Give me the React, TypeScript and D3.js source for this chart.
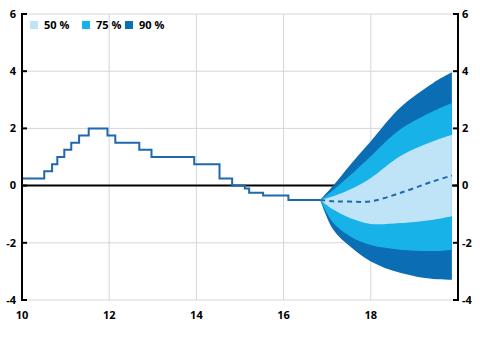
import React from "react";
import * as d3 from "d3";

const stepTimes = [10, 10.51, 10.69, 10.81, 10.97, 11.13, 11.31, 11.53, 11.96, 12.14, 12.69, 12.97, 13.95, 14.53, 14.82, 15.11, 15.21, 15.53, 16.11, 16.84];
const stepValues = [0.25, 0.5, 0.75, 1.0, 1.25, 1.5, 1.75, 2.0, 1.75, 1.5, 1.25, 1.0, 0.75, 0.25, 0, -0.1, -0.25, -0.35, -0.5, -0.5];

const fanTimes = [16.84, 17.14, 17.52, 18.0, 18.67, 19.43, 19.86];
const upper90 = [-0.5, 0.0, 0.71, 1.55, 2.72, 3.59, 3.96];
const upper75 = [-0.5, -0.15, 0.35, 1.03, 1.96, 2.6, 2.89];
const upper50 = [-0.5, -0.37, -0.14, 0.27, 1.03, 1.55, 1.78];
const median = [-0.5, -0.55, -0.56, -0.55, -0.26, 0.15, 0.35];
const lower50 = [-0.5, -0.84, -1.13, -1.34, -1.31, -1.19, -1.07];
const lower75 = [-0.5, -1.3, -1.77, -2.08, -2.24, -2.29, -2.24];
const lower90 = [-0.5, -1.54, -2.12, -2.65, -3.05, -3.27, -3.29];

const xTicks = [10, 12, 14, 16, 18];
const yTicks = [-4, -2, 0, 2, 4, 6];
const legendLabels = ["50 %", "75 %", "90 %"];

const C50 = "#bfe4f8";
const C75 = "#16b2e8";
const C90 = "#0b6db3";
const LINE = "#1f68ad";

export default function App() {
  const W = 480, H = 346;
  const x = d3.scaleLinear().domain([10, 20]).range([22, 458]);
  const y = d3.scaleLinear().domain([-4, 6]).range([300, 14]);
  const font = "'Open Sans', 'DejaVu Sans', sans-serif";
  const curve = d3.curveCatmullRom.alpha(0.5);

  const band = (lo: number[], hi: number[]) =>
    d3.area<number>()
      .x((_, i) => x(fanTimes[i]))
      .y0((_, i) => y(lo[i]))
      .y1((_, i) => y(hi[i]))
      .curve(curve)(fanTimes.map((_, i) => i)) || "";

  const stepLine = d3.line<number>()
    .x((_, i) => x(stepTimes[i]))
    .y((d) => y(d))
    .curve(d3.curveStepAfter)(stepValues) || "";

  const medLine = d3.line<number>()
    .x((_, i) => x(fanTimes[i]))
    .y((d) => y(d))
    .curve(curve)(median) || "";

  const colors = [C50, C75, C90];
  const legendX = [30, 82, 125];

  return (
    <svg width={W} height={H} style={{ position: "absolute", left: 0, top: 0, background: "#fff" }} fontFamily={font}>
      {yTicks.filter((t) => t !== 0).map((t) => (
        <line key={"gy" + t} x1={x(10)} x2={x(20)} y1={y(t)} y2={y(t)} stroke="#d6d6d6" strokeWidth={1} />
      ))}
      {[12, 14, 16, 18].map((t) => (
        <line key={"gx" + t} x1={x(t)} x2={x(t)} y1={y(6)} y2={y(-4)} stroke="#d6d6d6" strokeWidth={1} />
      ))}
      <line x1={x(10)} x2={x(20)} y1={y(0)} y2={y(0)} stroke="#000" strokeWidth={2} />
      <path d={band(lower90, upper90)} fill={C90} />
      <path d={band(lower75, upper75)} fill={C75} />
      <path d={band(lower50, upper50)} fill={C50} />
      <path d={medLine} fill="none" stroke={LINE} strokeWidth={2} strokeDasharray="5,4" />
      <path d={stepLine} fill="none" stroke={LINE} strokeWidth={2} />
      <line x1={x(10)} x2={x(10)} y1={y(6) - 1} y2={y(-4) + 1} stroke="#000" strokeWidth={2} />
      <line x1={x(20)} x2={x(20)} y1={y(6) - 1} y2={y(-4) + 1} stroke="#000" strokeWidth={2} />
      {yTicks.map((t) => (
        <g key={"yt" + t}>
          <line x1={x(10)} x2={x(10) + 5} y1={y(t)} y2={y(t)} stroke="#000" strokeWidth={2} />
          <line x1={x(20) - 5} x2={x(20)} y1={y(t)} y2={y(t)} stroke="#000" strokeWidth={2} />
          <text x={16} y={y(t)} dy="0.35em" textAnchor="end" fontSize={11} fontWeight="bold" fill="#000">{t}</text>
          <text x={462} y={y(t)} dy="0.35em" textAnchor="start" fontSize={11} fontWeight="bold" fill="#000">{t}</text>
        </g>
      ))}
      {xTicks.map((t) => (
        <text key={"xt" + t} x={x(t)} y={315} dy="0.35em" textAnchor="middle" fontSize={11} fontWeight="bold" fill="#000">{t}</text>
      ))}
      {legendLabels.map((l, i) => (
        <g key={l}>
          <rect x={legendX[i]} y={21} width={8} height={8} fill={colors[i]} />
          <text x={legendX[i] + 14} y={25} dy="0.35em" fontSize={11} fontWeight="bold" fill="#000">{l}</text>
        </g>
      ))}
    </svg>
  );
}
